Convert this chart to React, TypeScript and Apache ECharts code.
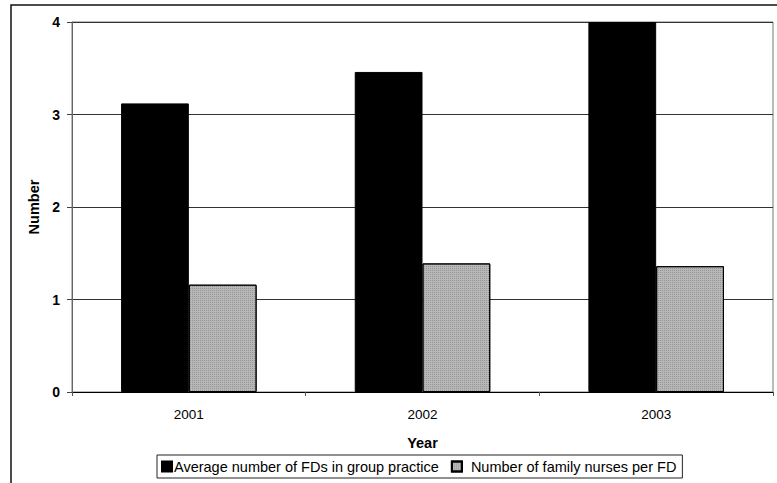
import React, { useEffect, useRef } from "react";
import * as echarts from "echarts";

const years = ["2001", "2002", "2003"];
const avgFDsInGroup = [3.12, 3.46, 4.0];
const nursesPerFD = [1.16, 1.39, 1.36];
const yTicks = [0, 1, 2, 3, 4];

const FONT = "Liberation Sans, Arial, sans-serif";

export default function App() {
  const ref = useRef<HTMLDivElement>(null);

  useEffect(() => {
    if (!ref.current) return;
    const chart = echarts.init(ref.current, null, { renderer: "svg" });
    chart.setOption({
      animation: false,
      backgroundColor: "#fff",
      textStyle: { fontFamily: FONT, color: "#000" },
      graphic: [
        {
          type: "rect",
          shape: { x: 11, y: 5, width: 800, height: 520 },
          style: { fill: "none", stroke: "#111", lineWidth: 1.5 },
          silent: true,
          z: -1,
        },
      ],
      grid: {
        left: 72,
        right: 4,
        top: 22,
        bottom: 91,
        show: true,
        borderColor: "#777",
        borderWidth: 1,
        backgroundColor: "transparent",
      },
      legend: {
        left: 157,
        top: 455,
        orient: "horizontal",
        itemWidth: 10,
        itemHeight: 10,
        itemGap: 12,
        padding: [4, 6, 4, 4],
        borderColor: "#222",
        borderWidth: 1,
        textStyle: { fontFamily: FONT, fontSize: 14.5, color: "#000", padding: [0, 0, 0, -3] },
        data: [
          { name: "Average number of FDs in group practice", icon: "rect" },
          {
            name: "Number of family nurses per FD",
            icon: "rect",
            textStyle: { fontFamily: FONT, fontSize: 14.5, color: "#000", padding: [0, 0, 0, 4] },
          },
        ],
      },
      xAxis: {
        type: "category",
        data: years,
        name: "Year",
        nameLocation: "middle",
        nameGap: 43,
        nameTextStyle: { fontFamily: FONT, fontSize: 14.5, fontWeight: "bold", color: "#000" },
        axisLine: { show: true, lineStyle: { color: "#000", width: 1 } },
        axisTick: { show: true, length: 4, inside: false, lineStyle: { color: "#555" } },
        axisLabel: { fontFamily: FONT, fontSize: 13.5, color: "#000", margin: 15 },
        splitLine: { show: false },
      },
      yAxis: {
        type: "value",
        min: yTicks[0],
        max: yTicks[yTicks.length - 1],
        interval: 1,
        name: "Number",
        nameLocation: "middle",
        nameGap: 30,
        nameRotate: 90,
        nameTextStyle: { fontFamily: FONT, fontSize: 14.5, fontWeight: "bold", color: "#000" },
        axisLine: { show: true, lineStyle: { color: "#666", width: 1 } },
        axisTick: { show: true, length: 5, inside: false, lineStyle: { color: "#444" } },
        axisLabel: { fontFamily: FONT, fontSize: 14, fontWeight: "bold", color: "#000", margin: 12 },
        splitLine: { show: true, lineStyle: { color: "#333", width: 1 } },
      },
      series: [
        {
          name: "Average number of FDs in group practice",
          type: "bar",
          data: avgFDsInGroup,
          barGap: "0%",
          barCategoryGap: "42%",
          itemStyle: { color: "#000", borderColor: "#000", borderWidth: 1 },
        },
        {
          name: "Number of family nurses per FD",
          type: "bar",
          data: nursesPerFD,
          itemStyle: {
            color: "#b8b8b8",
            borderColor: "#000",
            borderWidth: 1,
            decal: {
              symbol: "rect",
              symbolSize: 1,
              color: "rgba(80,80,80,0.35)",
              dashArrayX: [1, 1],
              dashArrayY: [1, 1],
              rotation: 0,
            },
          },
        },
      ],
    });
    return () => chart.dispose();
  }, []);

  return (
    <div
      ref={ref}
      style={{ position: "fixed", left: 0, top: 0, width: 777, height: 483, background: "#fff" }}
    />
  );
}
